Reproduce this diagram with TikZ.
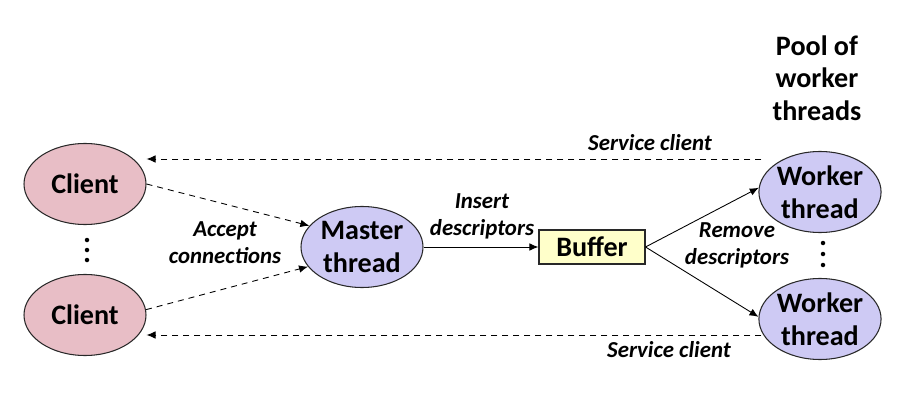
\documentclass[tikz,border=0pt]{standalone}
\usepackage{fontspec}
\setmainfont{Carlito}
\usetikzlibrary{arrows.meta,positioning,shapes.geometric}
\definecolor{ClientPink}{RGB}{232,190,198}
\definecolor{ThreadLilac}{RGB}{206,202,244}
\definecolor{BufferYellow}{RGB}{255,255,202}
\definecolor{EdgeGray}{RGB}{40,40,40}

\begin{document}
\begin{tikzpicture}[
      every node/.style={align=center},
      proc/.style={ellipse,draw=EdgeGray,line width=0.6pt,inner sep=0pt,
        minimum width=2.44cm,minimum height=1.62cm,
        font=\fontsize{16}{18.5}\selectfont\bfseries},
      client/.style={proc,fill=ClientPink},
      thread/.style={proc,fill=ThreadLilac},
      buffer/.style={draw=EdgeGray,line width=0.6pt,fill=BufferYellow,
        minimum width=2.12cm,minimum height=0.68cm,inner sep=0pt,
        font=\fontsize{16}{18.5}\selectfont\bfseries},
      lbl/.style={font=\fontsize{13}{15.3}\selectfont\bfseries\itshape},
      solidarrow/.style={-{Latex[length=1.8mm,width=1.5mm]},line width=0.5pt},
      dasharrow/.style={solidarrow,dashed,dash pattern=on 1.2mm off 1mm}]
      \useasboundingbox (0,0) rectangle (17.94,8.16);
      % processes
      \node[client] (client1) at (1.70,4.48) {Client};
      \node[client] (client2) at (1.70,1.86) {Client};
      \node[thread] (master) at (7.24,3.22) {Master\\thread};
      \node[buffer] (buffer) at (11.84,3.22) {Buffer};
      \node[thread] (worker1) at (16.40,4.32) {Worker\\thread};
      \node[thread] (worker2) at (16.40,1.78) {Worker\\thread};
      \node[font=\fontsize{16}{18.5}\selectfont\bfseries] (pool) at (16.34,6.60) {Pool of\\worker\\threads};
      % vertical dots
      \coordinate (cdots) at (1.74,3.16);
      \coordinate (wdots) at (16.46,3.08);
      \foreach \k in {-1,0,1} {
        \fill (cdots) ++(0,0.2*\k) circle (0.045);
        \fill (wdots) ++(0,0.22*\k) circle (0.045);
      }
      % labels
      \node[lbl] (accept) at (4.50,3.31) {Accept\\connections};
      \node[lbl] (insert) at (9.64,3.84) {Insert\\descriptors};
      \node[lbl] (remove) at (14.74,3.26) {Remove\\descriptors};
      \node[lbl] (servtop) at (13.00,5.30) {Service client};
      \node[lbl] (servbot) at (13.38,1.16) {Service client};
      % connectors
      \draw[dasharrow] (client1.east) -- (master.158);
      \draw[dasharrow] (client2.5) -- (master.200);
      \draw[solidarrow] (master.east) -- (buffer.west);
      \draw[solidarrow] (buffer.east) -- (worker1.176);
      \draw[solidarrow] (buffer.east) -- (worker2.178);
      \coordinate (svc1) at ([xshift=0.06cm,yshift=0.66cm]worker1.west);
      \coordinate (svc2) at ([xshift=0.06cm,yshift=-0.32cm]worker2.west);
      \draw[dasharrow] (svc1) -- (svc1 -| client1.east);
      \draw[dasharrow] (svc2) -- (svc2 -| client2.east);
    \end{tikzpicture}
\end{document}
